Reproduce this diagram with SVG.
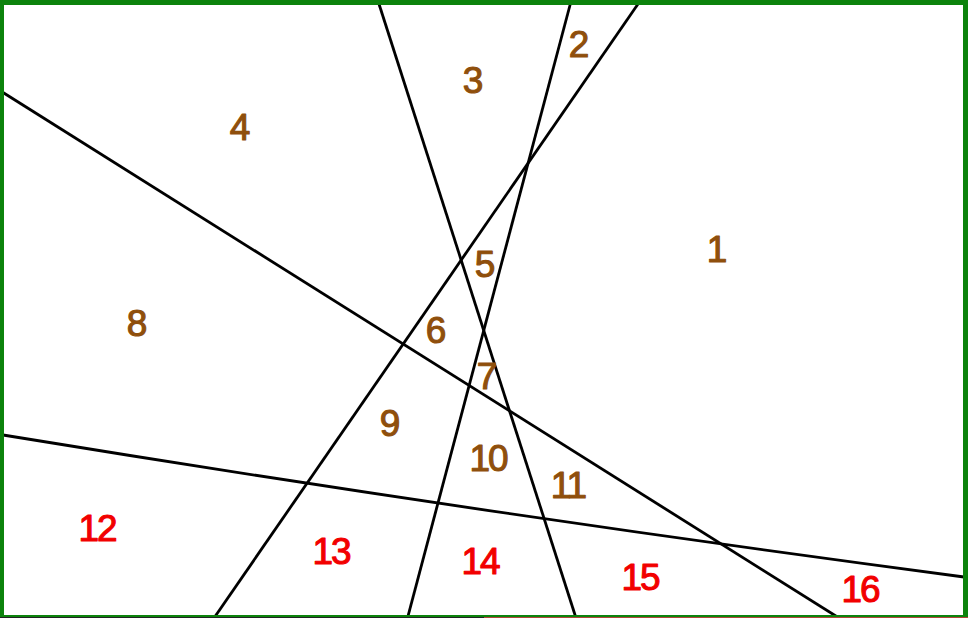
<svg xmlns="http://www.w3.org/2000/svg" width="968" height="618" viewBox="0 0 968 618">
<style>
.ln{stroke:#000;stroke-width:2.8;fill:none;stroke-linecap:butt}
.t{font-family:"Liberation Sans",Arial,sans-serif;font-size:37px;text-anchor:middle;letter-spacing:-2px;stroke-width:1.1px;stroke-linejoin:round}
.b{fill:#8f4f0c;stroke:#8f4f0c}
.r{fill:#f20000;stroke:#f20000}
</style>
<rect x="0" y="0" width="968" height="618" fill="#fff"/>
<g id="lines">
<line class="ln" x1="379" y1="4" x2="576" y2="618"/>
<line class="ln" x1="570.3" y1="4" x2="407.5" y2="618"/>
<line class="ln" x1="638" y1="4" x2="214" y2="618"/>
<line class="ln" x1="3" y1="92.5" x2="839" y2="618"/>
<path class="ln" d="M3,435 Q483.5,513.6 964,577"/>
</g>
<g id="border">
<rect x="0" y="0" width="968" height="5" fill="#0c830c"/>
<rect x="0" y="0" width="4" height="618" fill="#0c830c"/>
<rect x="963" y="0" width="5" height="618" fill="#0c830c"/>
<rect x="0" y="615" width="968" height="2" fill="#0c830c"/>
<rect x="0" y="617" width="484" height="1" fill="#222"/>
<rect x="484" y="617" width="484" height="1" fill="#b0453a"/>
</g>
<g id="labels">
<text class="t b" x="716" y="262">1</text>
<text class="t b" x="578" y="57">2</text>
<text class="t b" x="472" y="93">3</text>
<text class="t b" x="239" y="140">4</text>
<text class="t b" x="484" y="277">5</text>
<text class="t b" x="435" y="343">6</text>
<text class="t b" x="486" y="389">7</text>
<text class="t b" x="136" y="336">8</text>
<text class="t b" x="389" y="436">9</text>
<text class="t b" x="488" y="471">10</text>
<text class="t b" x="568" y="498">11</text>
<text class="t r" x="97" y="541">12</text>
<text class="t r" x="331" y="564">13</text>
<text class="t r" x="480" y="574">14</text>
<text class="t r" x="640" y="590">15</text>
<text class="t r" x="860" y="602">16</text>
</g>
</svg>
